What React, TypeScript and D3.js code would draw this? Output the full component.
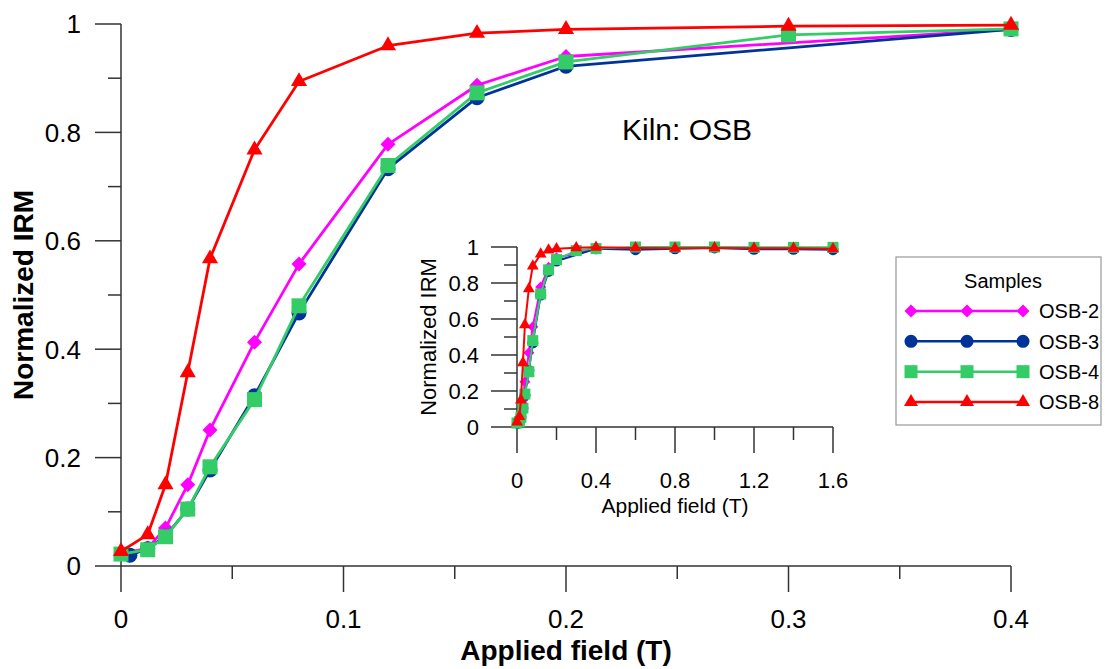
import React, { useEffect, useRef } from "react";
import * as d3 from "d3";

const seriesNames = ["OSB-2", "OSB-3", "OSB-4", "OSB-8"];
const seriesColors = ["#ff00ff", "#003399", "#33cc66", "#ff0000"];
const seriesShapes = ["diamond", "circle", "square", "triangle"];

const osb2Fields = [0, 0.012, 0.02, 0.03, 0.04, 0.06, 0.08, 0.12, 0.16, 0.2, 0.4, 0.6, 0.8, 1.0, 1.2, 1.4, 1.6];
const osb2Values = [0.022, 0.033, 0.07, 0.15, 0.251, 0.413, 0.557, 0.778, 0.887, 0.94, 0.99, 0.995, 0.997, 0.998, 0.995, 0.995, 0.993];

const osb3Fields = [0.004, 0.012, 0.02, 0.03, 0.04, 0.06, 0.08, 0.12, 0.16, 0.2, 0.4, 0.6, 0.8, 1.0, 1.2, 1.4, 1.6];
const osb3Values = [0.02, 0.032, 0.055, 0.105, 0.177, 0.314, 0.467, 0.733, 0.864, 0.922, 0.99, 0.985, 0.99, 0.995, 0.987, 0.987, 0.985];

const osb4Fields = [0, 0.012, 0.02, 0.03, 0.04, 0.06, 0.08, 0.12, 0.16, 0.2, 0.3, 0.4, 0.6, 0.8, 1.0, 1.2, 1.4, 1.6];
const osb4Values = [0.022, 0.03, 0.054, 0.105, 0.183, 0.307, 0.48, 0.739, 0.873, 0.93, 0.98, 0.991, 1.0, 1.0, 1.0, 0.998, 0.998, 0.998];

const osb8Fields = [0, 0.012, 0.02, 0.03, 0.04, 0.06, 0.08, 0.12, 0.16, 0.2, 0.3, 0.4, 0.6, 0.8, 1.0, 1.2, 1.4, 1.6];
const osb8Values = [0.027, 0.058, 0.15, 0.357, 0.567, 0.768, 0.894, 0.96, 0.983, 0.99, 0.996, 0.998, 0.995, 0.993, 0.995, 0.993, 0.993, 0.99];

const mainXMajor = [0, 0.1, 0.2, 0.3, 0.4];
const mainXMinor = [0.05, 0.15, 0.25, 0.35];
const mainYMajor = [0, 0.2, 0.4, 0.6, 0.8, 1];
const mainYMinor = [0.1, 0.3, 0.5, 0.7, 0.9];
const insetXMajor = [0, 0.4, 0.8, 1.2, 1.6];
const insetXMinor = [0.2, 0.6, 1.0, 1.4];
const insetYMajor = [0, 0.2, 0.4, 0.6, 0.8, 1];
const insetYMinor = [0.1, 0.3, 0.5, 0.7, 0.9];

const allFields = [osb2Fields, osb3Fields, osb4Fields, osb8Fields];
const allValues = [osb2Values, osb3Values, osb4Values, osb8Values];

const FONT = "'Liberation Sans', Arial, sans-serif";
const AXIS = "#333333";

function markerPath(shape: string, r: number): string {
  if (shape === "diamond") return `M0,${-r}L${r},0L0,${r}L${-r},0Z`;
  if (shape === "circle") return d3.symbol().type(d3.symbolCircle).size(Math.PI * r * r)() as string;
  if (shape === "square") return `M${-r},${-r}H${r}V${r}H${-r}Z`;
  const s = r * 2.15;
  return d3.symbol().type(d3.symbolTriangle).size((Math.sqrt(3) / 4) * s * s)() as string;
}

export default function App() {
  const ref = useRef<SVGSVGElement>(null);

  useEffect(() => {
    const svg = d3.select(ref.current);
    svg.selectAll("*").remove();

    const data = seriesNames.map((name, i) => ({
      name,
      color: seriesColors[i],
      shape: seriesShapes[i],
      points: allFields[i].map((f, j) => ({ x: f, y: allValues[i][j] })),
    }));

    function drawAxes(
      g: any,
      x: any,
      y: any,
      xMajor: number[],
      xMinor: number[],
      yMajor: number[],
      yMinor: number[],
      tickFont: number,
      xLabelDy: number,
      yLabelGap: number,
      xFmt: (v: number) => string
    ) {
      const [x0] = x.range();
      const [y0] = y.range();
      const major = 26;
      const minor = 13;
      const ag = g.append("g").attr("stroke", AXIS).attr("stroke-width", 1.5);
      ag.append("line").attr("x1", x(0)).attr("x2", x.range()[1]).attr("y1", y0).attr("y2", y0);
      ag.append("line").attr("x1", x0).attr("x2", x0).attr("y1", y0).attr("y2", y.range()[1]);
      xMajor.forEach((v) => ag.append("line").attr("x1", x(v)).attr("x2", x(v)).attr("y1", y0).attr("y2", y0 + major));
      xMinor.forEach((v) => ag.append("line").attr("x1", x(v)).attr("x2", x(v)).attr("y1", y0).attr("y2", y0 + minor));
      yMajor.forEach((v) => ag.append("line").attr("x1", x0 - major).attr("x2", x0).attr("y1", y(v)).attr("y2", y(v)));
      yMinor.forEach((v) => ag.append("line").attr("x1", x0 - minor).attr("x2", x0).attr("y1", y(v)).attr("y2", y(v)));
      const tg = g.append("g").attr("font-family", FONT).attr("font-size", tickFont).attr("fill", "#000");
      xMajor.forEach((v) =>
        tg.append("text").attr("x", x(v)).attr("y", y0 + xLabelDy).attr("text-anchor", "middle").text(xFmt(v))
      );
      yMajor.forEach((v) =>
        tg
          .append("text")
          .attr("x", x0 - major - yLabelGap)
          .attr("y", y(v))
          .attr("dy", "0.36em")
          .attr("text-anchor", "end")
          .text(d3.format("~g")(v))
      );
    }

    function drawSeries(g: any, x: any, y: any, maxX: number, r: number, lw: number) {
      const line = d3
        .line<{ x: number; y: number }>()
        .x((d) => x(d.x))
        .y((d) => y(d.y));
      data.forEach((s) => {
        const pts = s.points.filter((p) => p.x <= maxX + 1e-9);
        g.append("path")
          .attr("d", line(pts))
          .attr("fill", "none")
          .attr("stroke", s.color)
          .attr("stroke-width", lw)
          .attr("stroke-linejoin", "round");
        g.selectAll(null)
          .data(pts)
          .enter()
          .append("path")
          .attr("d", markerPath(s.shape, r))
          .attr("transform", (d: any) => `translate(${x(d.x)},${y(d.y)})`)
          .attr("fill", s.color);
      });
    }

    // Main chart
    const mx = d3.scaleLinear().domain([0, 0.4]).range([121, 1011]);
    const my = d3.scaleLinear().domain([0, 1]).range([566, 24]);
    const main = svg.append("g");
    drawAxes(main, mx, my, mainXMajor, mainXMinor, mainYMajor, mainYMinor, 26, 62, 14, (v) => d3.format("~g")(v));
    drawSeries(main.append("g"), mx, my, 0.4, 7.5, 2.8);

    main
      .append("text")
      .attr("x", 566)
      .attr("y", 660)
      .attr("text-anchor", "middle")
      .attr("font-family", FONT)
      .attr("font-weight", "bold")
      .attr("font-size", 28)
      .text("Applied field (T)");
    main
      .append("text")
      .attr("transform", "translate(33,295) rotate(-90)")
      .attr("text-anchor", "middle")
      .attr("font-family", FONT)
      .attr("font-weight", "bold")
      .attr("font-size", 28)
      .text("Normalized IRM");
    main
      .append("text")
      .attr("x", 622)
      .attr("y", 140)
      .attr("font-family", FONT)
      .attr("font-size", 30)
      .text("Kiln: OSB");

    // Inset
    const ix = d3.scaleLinear().domain([0, 1.6]).range([517, 833]);
    const iy = d3.scaleLinear().domain([0, 1]).range([427, 247]);
    const inset = svg.append("g");
    drawAxes(inset, ix, iy, insetXMajor, insetXMinor, insetYMajor, insetYMinor, 22, 61, 12, (v) => d3.format("~g")(v));
    drawSeries(inset.append("g"), ix, iy, 1.6, 5.5, 2);
    inset
      .append("text")
      .attr("x", 675)
      .attr("y", 513)
      .attr("text-anchor", "middle")
      .attr("font-family", FONT)
      .attr("font-size", 21)
      .text("Applied field (T)");
    inset
      .append("text")
      .attr("transform", "translate(436,337) rotate(-90)")
      .attr("text-anchor", "middle")
      .attr("font-family", FONT)
      .attr("font-size", 22)
      .text("Normalized IRM");

    // Legend
    const lg = svg.append("g");
    lg.append("rect")
      .attr("x", 896)
      .attr("y", 257)
      .attr("width", 205)
      .attr("height", 168)
      .attr("fill", "#fff")
      .attr("stroke", "#999")
      .attr("stroke-width", 1.2);
    lg.append("text")
      .attr("x", 1003)
      .attr("y", 288)
      .attr("text-anchor", "middle")
      .attr("font-family", FONT)
      .attr("font-size", 20)
      .text("Samples");
    const rowY = d3.scalePoint().domain(seriesNames).range([311, 402]);
    data.forEach((s) => {
      const yy = rowY(s.name) as number;
      lg.append("line")
        .attr("x1", 911)
        .attr("x2", 1023)
        .attr("y1", yy)
        .attr("y2", yy)
        .attr("stroke", s.color)
        .attr("stroke-width", 2.5);
      [911, 967, 1023].forEach((px) =>
        lg.append("path").attr("d", markerPath(s.shape, 6.5)).attr("transform", `translate(${px},${yy})`).attr("fill", s.color)
      );
      lg.append("text")
        .attr("x", 1039)
        .attr("y", yy)
        .attr("dy", "0.36em")
        .attr("font-family", FONT)
        .attr("font-size", 20)
        .text(s.name);
    });
  }, []);

  return (
    <svg
      ref={ref}
      width={1105}
      height={669}
      style={{ position: "absolute", left: 0, top: 0, background: "#fff" }}
    />
  );
}
